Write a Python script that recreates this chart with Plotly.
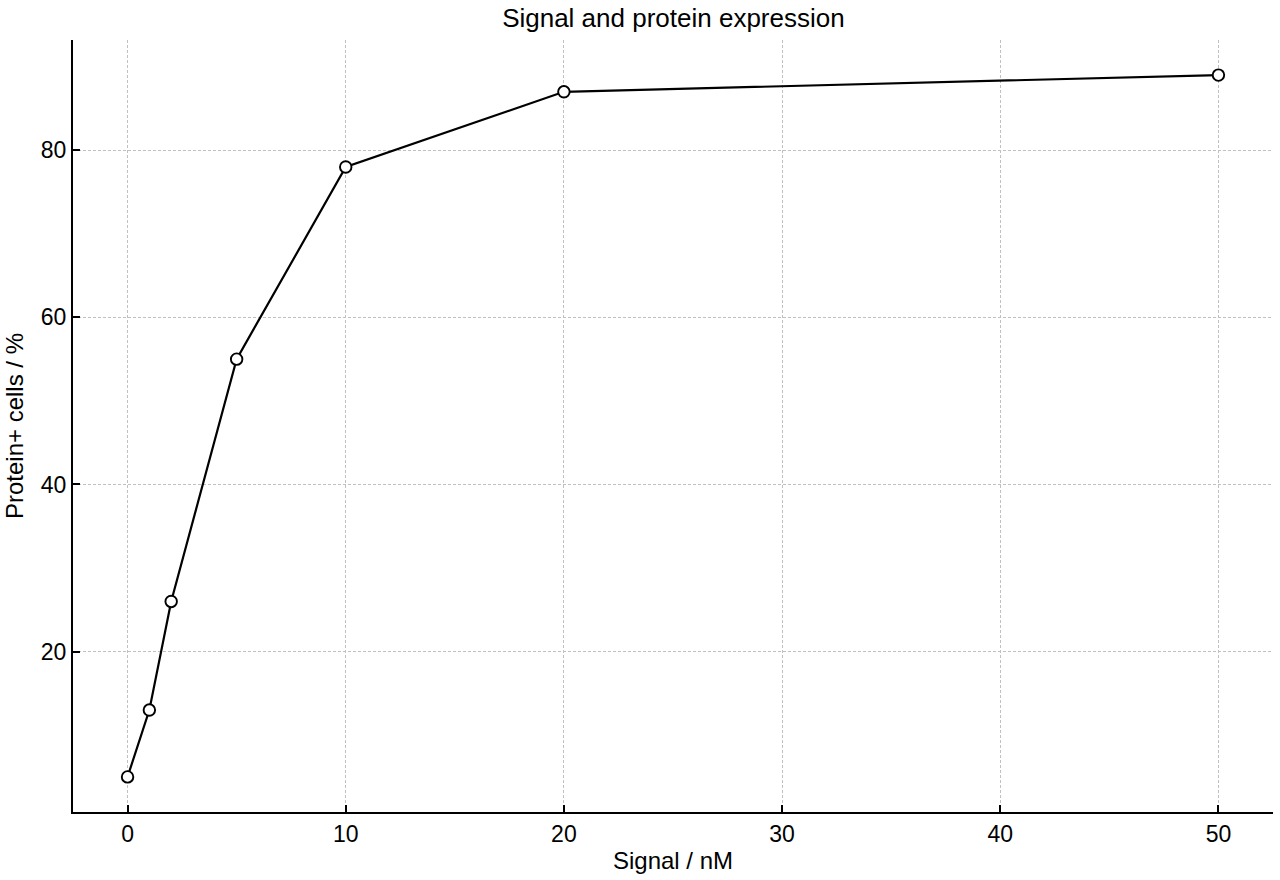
import plotly.graph_objects as go

# Datos
signal_nm = [0, 1, 2, 5, 10, 20, 50]
protein_pct = [5, 13, 26, 55, 78, 87, 89]

x_ticks = [0, 10, 20, 30, 40, 50]
y_ticks = [20, 40, 60, 80]

fig = go.Figure()

fig.add_trace(go.Scatter(
    x=signal_nm,
    y=protein_pct,
    mode='lines+markers',
    line=dict(color='black', width=2.2),
    marker=dict(size=11.5, color='white', line=dict(color='black', width=1.9)),
    showlegend=False
))

axis_common = dict(
    showline=True,
    linecolor='black',
    linewidth=2,
    ticks='inside',
    ticklen=7,
    tickwidth=1.8,
    tickcolor='black',
    showgrid=True,
    gridcolor='#c0c0c0',
    gridwidth=1,
    griddash='3px,2px',
    zeroline=False,
    mirror=False,
    tickfont=dict(size=23, color='black'),
)

fig.update_xaxes(
    range=[-2.5, 52.5],
    tickvals=x_ticks,
    title=dict(text='Signal / nM', font=dict(size=24, color='black'), standoff=7),
    **axis_common
)
fig.update_yaxes(
    range=[0.8, 93.2],
    tickvals=y_ticks,
    title=dict(text='Protein+ cells / %', font=dict(size=24, color='black'), standoff=10),
    **axis_common
)

fig.update_layout(
    title=dict(
        text='Signal and protein expression',
        x=0.5261, xanchor='center',
        y=0.98, yanchor='middle',
        font=dict(size=26, color='black')
    ),
    font=dict(family='Liberation Sans, Arial, sans-serif', color='black'),
    plot_bgcolor='white',
    paper_bgcolor='white',
    width=1280,
    height=880,
    margin=dict(l=73, r=7, t=40, b=68)
)

fig.write_html("out.html", config={'displayModeBar': False},
               post_script="document.body.style.margin='0';")
